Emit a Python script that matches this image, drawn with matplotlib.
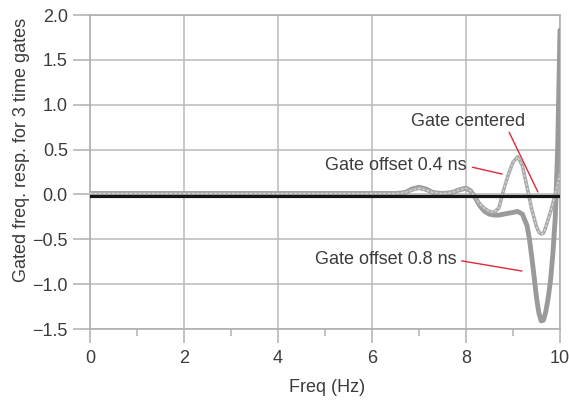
import matplotlib
matplotlib.use("Agg")
import matplotlib.pyplot as plt

plt.rcParams['font.family'] = ['Liberation Sans', 'DejaVu Sans']

# Data
freq_centered = [0.0, 10.0]
resp_centered = [-0.015, -0.015]

freq_04 = [0.0, 6.5, 6.7, 6.85, 7.0, 7.15, 7.3, 7.5, 7.7, 7.85, 8.0, 8.1, 8.2, 8.3, 8.4,
           8.5, 8.6, 8.7, 8.8, 8.9, 9.0, 9.1, 9.2, 9.3, 9.4, 9.5, 9.55, 9.6, 9.65,
           9.7, 9.8, 9.9, 10.0]
resp_04 = [0.01, 0.01, 0.02, 0.05, 0.07, 0.05, 0.02, 0.01, 0.02, 0.05, 0.07, 0.04, -0.04,
           -0.11, -0.16, -0.19, -0.20, -0.15, 0.05, 0.22, 0.36, 0.42, 0.32, 0.08, -0.17,
           -0.36, -0.42, -0.44, -0.43, -0.36, -0.19, 0.0, 0.22]

freq_08 = [0.0, 6.5, 6.7, 6.85, 7.0, 7.15, 7.3, 7.5, 7.7, 7.85, 8.0, 8.1, 8.2, 8.3, 8.4,
           8.5, 8.6, 8.7, 8.8, 8.9, 9.0, 9.1, 9.2, 9.3, 9.35, 9.4, 9.45, 9.5, 9.55, 9.6,
           9.65, 9.7, 9.75, 9.8, 9.85, 9.9, 9.95, 10.0]
resp_08 = [0.01, 0.01, 0.02, 0.06, 0.08, 0.06, 0.02, 0.01, 0.02, 0.05, 0.07, 0.04, -0.04,
           -0.13, -0.19, -0.22, -0.23, -0.23, -0.22, -0.21, -0.20, -0.19, -0.22, -0.35,
           -0.50, -0.70, -0.92, -1.15, -1.32, -1.41, -1.40, -1.30, -1.15, -0.95, -0.65,
           -0.25, 0.50, 1.83]

x_ticks = [0, 2, 4, 6, 8, 10]
y_ticks = [-1.5, -1.0, -0.5, 0.0, 0.5, 1.0, 1.5, 2.0]
y_ticklabels = ['\u22121.5', '\u22121.0', '\u22120.5', '0.0', '0.5', '1.0', '1.5', '2.0']

fig = plt.figure(figsize=(5.69, 4.0), dpi=100)
ax = fig.add_axes([90/569, 71/400, 470/569, 314/400])

txt_color = '#3c3c3c'
grid_color = '#b9b9b9'
red = '#e0283a'

ax.plot(freq_08, resp_08, color='#9a9a9a', lw=3.5, solid_capstyle='round', zorder=3)
ax.plot(freq_04, resp_04, color='#ababab', lw=2.6, zorder=4)
ax.plot(freq_04, resp_04, color='white', lw=0.8, ls=(0, (2, 2)), alpha=0.6, zorder=4)
ax.plot(freq_centered, resp_centered, color='#151515', lw=2.3, zorder=5)

ax.set_xlim(0, 10)
ax.set_ylim(-1.5, 2.0)
ax.set_xticks(x_ticks)
ax.set_xticks([1, 3, 5, 7, 9], minor=True)
ax.set_yticks(y_ticks)
ax.set_yticklabels(y_ticklabels)

ax.grid(True, color=grid_color, lw=1.1)
ax.set_axisbelow(True)
for s in ax.spines.values():
    s.set_color('#b0b0b0')
    s.set_linewidth(1.2)

ax.tick_params(axis='y', which='major', length=12, width=1.1, color='#b0b0b0',
               direction='out', pad=4, labelsize=13, labelcolor=txt_color)
ax.tick_params(axis='x', which='major', length=10, width=1.1, color='#b0b0b0',
               direction='out', pad=5, labelsize=13, labelcolor=txt_color)
ax.tick_params(axis='x', which='minor', length=5, width=1.1, color='#b0b0b0',
               direction='out')

ax.set_xlabel('Freq (Hz)', fontsize=13, color=txt_color)
ax.xaxis.set_label_coords(0.504, -0.16)
ax.set_ylabel('Gated freq. resp. for 3 time gates', fontsize=13, color=txt_color)
ax.yaxis.set_label_coords(-0.128, 0.57)

ax.annotate('Gate centered', xy=(9.53, 0.027), xytext=(8.04, 0.818),
            ha='center', va='center', fontsize=13, color=txt_color,
            arrowprops=dict(arrowstyle='-', color=red, lw=1.0, shrinkA=0, shrinkB=0,
                            relpos=(0.85, 0.0)), zorder=6)
ax.annotate('Gate offset 0.4 ns', xy=(8.77, 0.227), xytext=(8.02, 0.317),
            ha='right', va='center', fontsize=13, color=txt_color,
            arrowprops=dict(arrowstyle='-', color=red, lw=1.0, shrinkA=2, shrinkB=0,
                            relpos=(1.0, 0.5)), zorder=6)
ax.annotate('Gate offset 0.8 ns', xy=(9.19, -0.854), xytext=(7.79, -0.73),
            ha='right', va='center', fontsize=13, color=txt_color,
            arrowprops=dict(arrowstyle='-', color=red, lw=1.0, shrinkA=2, shrinkB=0,
                            relpos=(1.0, 0.5)), zorder=6)

fig.savefig('out.png', dpi=100)
